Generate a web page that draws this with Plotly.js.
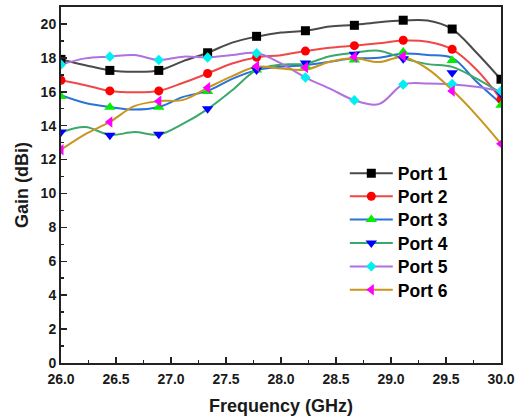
<!DOCTYPE html>
<html>
<head>
<meta charset="utf-8">
<script src="https://cdn.plot.ly/plotly-3.0.1.min.js"></script>
<style>html,body{margin:0;padding:0;background:#fff;}#chart{width:525px;height:420px;}</style>
</head>
<body>
<div id="chart"></div>
<script>
// Smooth-curve sample frequencies (GHz)
var freqLine = [26.0, 26.222, 26.444, 26.667, 26.889, 27.111, 27.333, 27.556, 27.778, 28.0,
                28.222, 28.444, 28.667, 28.889, 29.111, 29.333, 29.556, 29.778, 30.0];
// Marker frequencies (GHz)
var freqMark = [26.0, 26.444, 26.889, 27.333, 27.778, 28.222, 28.667, 29.111, 29.556, 30.0];

var seriesNames = ["Port 1", "Port 2", "Port 3", "Port 4", "Port 5", "Port 6"];

// Curve values (dBi)
var port1Line = [17.91, 17.57, 17.26, 17.18, 17.26, 17.81, 18.3, 18.9, 19.25, 19.49, 19.6, 19.85, 19.94, 20.1, 20.2, 20.2, 19.7, 18.3, 16.72];
var port2Line = [16.68, 16.39, 16.05, 15.97, 16.05, 16.53, 17.08, 17.67, 18.03, 18.16, 18.4, 18.6, 18.72, 18.86, 19.02, 18.95, 18.5, 17.3, 15.56];
var port3Line = [15.8, 15.34, 15.1, 14.95, 15.1, 15.7, 16.05, 16.76, 17.28, 17.48, 17.57, 17.77, 17.97, 18.0, 18.25, 18.17, 18.0, 16.59, 15.3];
var port4Line = [13.6, 13.92, 13.45, 13.62, 13.47, 14.12, 14.98, 16.09, 17.28, 17.6, 17.65, 18.1, 18.3, 18.42, 17.97, 17.63, 17.47, 16.78, 15.93];
var port5Line = [17.61, 17.97, 18.07, 18.17, 17.87, 18.07, 18.02, 18.17, 18.28, 17.67, 16.84, 16.19, 15.5, 15.27, 16.43, 16.49, 16.43, 16.29, 16.03];
var port6Line = [12.58, 13.5, 14.22, 15.15, 15.45, 15.52, 16.23, 16.92, 17.48, 17.37, 17.3, 17.77, 17.97, 17.75, 18.05, 17.35, 16.1, 14.61, 12.93];

// Marker values (dBi)
var port1Mark = [17.91, 17.26, 17.26, 18.3, 19.27, 19.6, 19.92, 20.22, 19.7, 16.74];
var port2Mark = [16.68, 16.05, 16.05, 17.08, 18.03, 18.4, 18.72, 19.04, 18.51, 15.55];
var port3Mark = [15.72, 15.08, 15.08, 16.01, 17.28, 17.5, 17.87, 18.34, 17.85, 15.2];
var port4Mark = [13.62, 13.43, 13.49, 15.0, 17.28, 17.7, 18.22, 17.95, 17.12, 15.9];
var port5Mark = [17.61, 18.07, 17.87, 18.02, 18.27, 16.84, 15.5, 16.43, 16.46, 16.05];
var port6Mark = [12.58, 14.22, 15.44, 16.23, 17.5, 17.43, 18.05, 18.1, 16.04, 12.93];

var lineData = [port1Line, port2Line, port3Line, port4Line, port5Line, port6Line];
var markData = [port1Mark, port2Mark, port3Mark, port4Mark, port5Mark, port6Mark];

var lineColors = ["#4a4a4a", "#f04848", "#2a72d8", "#3aa86a", "#b070e0", "#c8961e"];
var markColors = ["#000000", "#ff0000", "#00ee00", "#0000ff", "#00f0f0", "#ff00ff"];
var symbols = ["square", "circle", "triangle-up", "triangle-down", "diamond", "triangle-left"];
var sizes = [9, 9, 10, 10, 8, 10];

var legendIds = ["legend", "legend2", "legend3", "legend4", "legend5", "legend6"];
var legendY = [0.533, 0.468, 0.4025, 0.337, 0.271, 0.2055];

var traces = [];
for (var i = 0; i < seriesNames.length; i++) {
  traces.push({
    x: freqLine, y: lineData[i], type: "scatter", mode: "lines",
    line: {color: lineColors[i], width: 2, shape: "spline", smoothing: 1},
    showlegend: false, hoverinfo: "skip"
  });
}
for (var i = 0; i < seriesNames.length; i++) {
  traces.push({
    x: freqMark, y: markData[i], type: "scatter", mode: "markers",
    marker: {color: markColors[i], symbol: symbols[i], size: sizes[i], line: {width: 0}},
    showlegend: false
  });
}
for (var i = 0; i < seriesNames.length; i++) {
  traces.push({
    x: [null], y: [null], type: "scatter", mode: "lines+markers", name: seriesNames[i],
    legend: legendIds[i],
    line: {color: lineColors[i], width: 2},
    marker: {color: markColors[i], symbol: symbols[i], size: sizes[i], line: {width: 0}}
  });
}

var fam = "Arial, 'Liberation Sans', sans-serif";
var tickFont = {family: fam, size: 14, color: "#1a1a1a", weight: "bold"};
var titleFont = {family: fam, size: 18, color: "#1a1a1a", weight: "bold"};

var layout = {
  width: 525, height: 420,
  margin: {l: 61, r: 24, t: 7, b: 57},
  paper_bgcolor: "#ffffff", plot_bgcolor: "#ffffff",
  showlegend: true,
  xaxis: {
    range: [26, 30], dtick: 0.5, tick0: 26, tickformat: ".1f",
    ticks: "inside", ticklen: 6, tickwidth: 1.5, tickcolor: "#222",
    minor: {dtick: 0.25, ticks: "inside", ticklen: 3, tickwidth: 1.5, tickcolor: "#222"},
    showline: true, linewidth: 2, linecolor: "#222", mirror: true,
    showgrid: false, zeroline: false, tickfont: tickFont, ticklabelstandoff: 2,
    title: {text: "Frequency (GHz)", font: titleFont, standoff: 14}
  },
  yaxis: {
    range: [0, 21], dtick: 2, tick0: 0,
    ticks: "inside", ticklen: 6, tickwidth: 1.5, tickcolor: "#222",
    minor: {dtick: 1, ticks: "inside", ticklen: 3, tickwidth: 1.5, tickcolor: "#222"},
    showline: true, linewidth: 2, linecolor: "#222", mirror: true,
    showgrid: false, zeroline: false, tickfont: tickFont,
    title: {text: "Gain (dBi)", font: titleFont, standoff: 7}
  }
};
for (var i = 0; i < legendIds.length; i++) {
  layout[legendIds[i]] = {
    x: 0.645, y: legendY[i], xanchor: "left", yanchor: "middle",
    font: {family: fam, size: 17.5, color: "#000000", weight: "bold"},
    itemwidth: 43, bgcolor: "rgba(0,0,0,0)", borderwidth: 0
  };
}

Plotly.newPlot("chart", traces, layout, {displayModeBar: false, staticPlot: true});
</script>
</body>
</html>
